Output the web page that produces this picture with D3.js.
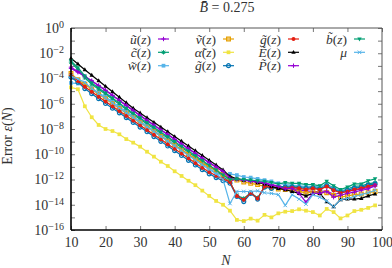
<!DOCTYPE html>
<html><head><meta charset="utf-8">
<script src="https://cdn.jsdelivr.net/npm/d3@7"></script>
<style>
body{margin:0;background:#fff}
svg{display:block}
svg text{font-family:"Liberation Serif","Times New Roman",serif !important;fill:#333}
</style>
</head><body>
<svg id="chart" width="392" height="268"></svg>
<script>
// N values (x axis)
const Nvals = [10,12,14,16,18,20,22,24,26,28,
  30,32,34,36,38,40,42,44,46,48,
  50,52,54,56,58,60,62,64,66,68,
  70,72,74,76,78,80,82,84,86,88,
  90,92,94,96,98];

// log10 of error
const uTilde = [-3.20,-3.50,-3.85,-4.20,-4.58,-4.95,-5.35,-5.75,-6.15,-6.55,
  -6.95,-7.33,-7.70,-8.08,-8.45,-8.83,-9.20,-9.58,-9.95,-10.32,
  -10.68,-11.02,-11.40,-12.15,-11.95,-12.05,-12.10,-12.15,-12.25,-12.40,
  -12.50,-12.60,-12.70,-12.85,-12.90,-12.95,-12.95,-12.90,-13.20,-13.05,
  -12.95,-12.85,-12.75,-12.65,-12.55];
const cTilde = [-2.70,-3.30,-3.95,-4.45,-4.85,-5.25,-5.65,-6.05,-6.45,-6.85,
  -7.22,-7.60,-7.97,-8.35,-8.72,-9.10,-9.47,-9.85,-10.22,-10.60,
  -10.97,-11.35,-11.75,-12.20,-13.25,-13.50,-13.05,-13.45,-12.60,-12.65,
  -12.60,-12.55,-12.50,-12.55,-12.60,-12.55,-12.65,-12.40,-12.65,-12.95,
  -12.75,-12.55,-12.50,-12.35,-12.25];
const wTilde = [-4.35,-4.40,-4.45,-4.75,-5.15,-5.45,-5.85,-6.25,-6.62,-7.00,
  -7.38,-7.75,-8.12,-8.50,-8.87,-9.25,-9.62,-10.00,-10.37,-10.75,
  -11.12,-11.48,-11.75,-11.55,-11.65,-11.80,-11.85,-11.95,-12.05,-12.15,
  -12.30,-12.40,-12.45,-12.50,-12.55,-12.60,-12.55,-12.45,-12.70,-12.90,
  -12.80,-12.65,-12.60,-12.50,-12.45];
const vTilde = [-3.60,-4.10,-4.45,-4.85,-5.25,-5.60,-6.00,-6.38,-6.75,-7.12,
  -7.50,-7.85,-8.22,-8.58,-8.95,-9.30,-9.65,-10.00,-10.35,-10.70,
  -11.00,-11.25,-11.60,-11.90,-12.05,-12.20,-12.30,-12.40,-12.55,-12.65,
  -12.75,-12.80,-12.85,-12.90,-13.10,-12.95,-13.05,-13.05,-13.25,-13.40,
  -13.30,-13.20,-13.15,-13.05,-12.95];
const alphaTilde = [-4.70,-4.85,-6.20,-7.07,-7.68,-8.00,-8.16,-8.42,-8.80,-9.08,
  -9.40,-9.80,-10.19,-10.59,-10.93,-11.35,-11.72,-12.10,-12.45,-12.88,
  -13.30,-13.70,-14.00,-14.47,-15.20,-15.29,-15.10,-15.26,-14.80,-15.00,
  -14.68,-14.55,-14.50,-14.36,-14.47,-14.58,-14.85,-14.33,-14.58,-15.08,
  -14.85,-14.50,-14.40,-14.25,-14.05];
const gTildeBlue = [-3.90,-4.30,-4.80,-5.20,-5.60,-5.98,-6.35,-6.72,-7.10,-7.48,
  -7.85,-8.22,-8.60,-8.98,-9.35,-9.72,-10.10,-10.48,-10.85,-11.22,
  -11.55,-11.85,-12.10,-12.30,-13.35,-13.75,-13.10,-13.55,-12.60,-12.70,
  -12.65,-12.60,-12.60,-12.65,-12.70,-12.65,-12.75,-12.50,-12.80,-13.00,
  -12.85,-12.70,-12.60,-12.45,-12.35];
const gTildeRed = [-3.70,-4.20,-4.65,-5.05,-5.45,-5.83,-6.20,-6.58,-6.95,-7.33,
  -7.70,-8.08,-8.45,-8.82,-9.20,-9.57,-9.95,-10.32,-10.70,-11.07,
  -11.40,-11.70,-11.95,-12.20,-13.30,-13.60,-13.05,-13.50,-12.55,-12.60,
  -12.65,-12.70,-12.65,-12.70,-12.80,-12.70,-12.80,-12.55,-12.85,-13.05,
  -12.95,-12.80,-12.70,-12.55,-12.45];
const ETilde = [-2.40,-2.85,-3.30,-3.74,-4.18,-4.62,-5.05,-5.48,-5.92,-6.35,
  -6.73,-7.10,-7.47,-7.85,-8.22,-8.60,-8.97,-9.35,-9.72,-10.10,
  -10.48,-10.85,-11.25,-11.75,-11.95,-12.05,-12.10,-12.25,-12.35,-12.55,
  -12.70,-12.80,-12.95,-13.10,-13.30,-13.10,-13.10,-13.75,-14.15,-13.60,
  -13.55,-13.55,-13.50,-13.30,-13.15];
const PTilde = [-3.10,-3.45,-3.82,-4.18,-4.55,-4.92,-5.32,-5.72,-6.12,-6.52,
  -6.92,-7.30,-7.68,-8.05,-8.42,-8.80,-9.17,-9.55,-9.92,-10.30,
  -10.65,-11.00,-11.35,-11.90,-12.00,-12.05,-12.15,-12.20,-12.30,-12.45,
  -12.55,-12.75,-12.70,-13.10,-13.80,-13.10,-13.10,-12.95,-13.40,-13.25,
  -13.10,-13.00,-12.85,-12.75,-12.45];
const bTilde = [-2.60,-3.15,-3.80,-4.35,-4.75,-5.15,-5.55,-5.95,-6.35,-6.75,
  -7.12,-7.50,-7.87,-8.25,-8.62,-9.00,-9.37,-9.75,-10.12,-10.50,
  -10.87,-11.25,-11.65,-12.00,-11.95,-12.00,-12.05,-12.10,-12.15,-12.25,
  -12.35,-12.25,-12.30,-12.30,-12.40,-12.40,-12.50,-12.15,-12.50,-12.80,
  -12.60,-12.35,-12.35,-12.10,-11.95];
const mu = [-3.80,-4.05,-4.30,-4.80,-5.20,-5.55,-5.95,-6.35,-6.72,-7.10,
  -7.48,-7.85,-8.22,-8.60,-8.97,-9.35,-9.72,-10.10,-10.47,-10.85,
  -11.20,-11.55,-12.00,-13.90,-12.95,-12.95,-12.95,-12.90,-13.05,-13.10,
  -13.20,-14.05,-13.20,-13.55,-13.95,-13.20,-13.40,-13.70,-14.15,-13.60,
  -13.50,-13.35,-13.20,-13.05,-12.85];

const xTicks = [10,20,30,40,50,60,70,80,90,100];
const yExponents = [0,-1,-2,-3,-4,-5,-6,-7,-8,-9,-10,-11,-12,-13,-14,-15,-16];
const titleText = "0.275";

const series = [
  {label:[["u\u0303",1],["(",0],["z",1],[")",0]], color:"#9400d3", marker:"plus", vals:uTilde},
  {label:[["c\u0303",1],["(",0],["z",1],[")",0]], color:"#009e73", marker:"star", vals:cTilde},
  {label:[["w\u0303",1],["(",0],["z",1],[")",0]], color:"#56b4e9", marker:"sqfill", vals:wTilde},
  {label:[["v\u0303",1],["(",0],["z",1],[")",0]], color:"#e69f00", marker:"sqopen", vals:vTilde},
  {label:[["\u03b1\u0303",1],["(",0],["z",1],[")",0]], color:"#f0e442", marker:"sqfill", vals:alphaTilde},
  {label:[["g\u0303",1],["(",0],["z",1],[")",0]], color:"#0072b2", marker:"circopen", vals:gTildeBlue},
  {label:[["g\u0303",1],["(",0],["z",1],[")",0]], color:"#e51e10", marker:"circfill", vals:gTildeRed},
  {label:[["E\u0303",1],["(",0],["z",1],[")",0]], color:"#000000", marker:"trifill", vals:ETilde},
  {label:[["P\u0303",1],["(",0],["z",1],[")",0]], color:"#9400d3", marker:"plus", vals:PTilde},
  {label:[["b\u0303",1],["(",0],["z",1],[")",0]], color:"#009e73", marker:"invtrifill", vals:bTilde},
  {label:[["\u03bc",1]], color:"#56b4e9", marker:"cross", vals:mu}
];

const FONT = "'Liberation Serif', 'Times New Roman', serif";
const svg = d3.select("#chart");
const L = 71, R = 382, T = 28, B = 230;
const x = d3.scaleLinear().domain([10,100]).range([L,R]);
const y = d3.scaleLog().domain([1e-16,1]).range([B,T]);

// axes
const yTickVals = yExponents.map(e => Math.pow(10,e));
const yl = svg.append("g").attr("transform",`translate(${L},0)`)
  .call(d3.axisLeft(y).tickValues(yTickVals).tickSize(-4).tickPadding(8).tickFormat(""));
const yr = svg.append("g").attr("transform",`translate(${R},0)`)
  .call(d3.axisRight(y).tickValues(yTickVals).tickSize(-4).tickFormat(""));
const xb = svg.append("g").attr("transform",`translate(0,${B})`)
  .call(d3.axisBottom(x).tickValues(xTicks).tickSize(-4).tickPadding(7).tickFormat(d3.format("d")));
const xt = svg.append("g").attr("transform",`translate(0,${T})`)
  .call(d3.axisTop(x).tickValues(xTicks).tickSize(-4).tickFormat(""));
[yl,yr,xb,xt].forEach(g => {
  g.attr("font-family", FONT).attr("font-size", 14);
  g.select(".domain").remove();
  g.selectAll(".tick line").attr("stroke","#777").attr("stroke-width",1);
});
xb.selectAll(".tick text").attr("fill","#333").style("font-family",FONT).style("font-size","14px");

// y labels with superscripts
yl.selectAll(".tick").each(function(d){
  const e = Math.round(Math.log10(d));
  if (e % 2 !== 0) return;
  const t = d3.select(this).append("text")
    .attr("x",-7).attr("dy","0.32em").attr("text-anchor","end")
    .attr("fill","#333").style("font-family",FONT).style("font-size","14px");
  t.append("tspan").text("10");
  t.append("tspan").attr("dy","-0.5em").style("font-size","10px").text(e===0?"0":"\u2212"+(-e));
});

// frame
svg.append("line").attr("x1",L).attr("x2",R).attr("y1",T).attr("y2",T).attr("stroke","#555").attr("stroke-width",1);
svg.append("line").attr("x1",R).attr("x2",R).attr("y1",T).attr("y2",B).attr("stroke","#555").attr("stroke-width",1);

// series
const line = d3.line().x(d=>x(d[0])).y(d=>y(d[1]));
function markerPath(type, s){
  switch(type){
    case "plus": return `M${-s},0H${s}M0,${-s}V${s}`;
    case "cross": return `M${-s*0.8},${-s*0.8}L${s*0.8},${s*0.8}M${-s*0.8},${s*0.8}L${s*0.8},${-s*0.8}`;
    case "star": return `M${-s},0H${s}M0,${-s}V${s}M${-s*0.75},${-s*0.75}L${s*0.75},${s*0.75}M${-s*0.75},${s*0.75}L${s*0.75},${-s*0.75}`;
    case "sqfill": case "sqopen": return `M${-s*0.85},${-s*0.85}H${s*0.85}V${s*0.85}H${-s*0.85}Z`;
    case "circfill": case "circopen": return `M${s*0.9},0A${s*0.9},${s*0.9} 0 1,1 ${-s*0.9},0A${s*0.9},${s*0.9} 0 1,1 ${s*0.9},0Z`;
    case "trifill": return `M0,${-s*1.1}L${s},${s*0.7}L${-s},${s*0.7}Z`;
    case "invtrifill": return `M0,${s*1.1}L${s},${-s*0.7}L${-s},${-s*0.7}Z`;
  }
}
function drawMarker(g, type, color, cx, cy){
  const s = 2.2;
  const p = g.append("path").attr("d", markerPath(type,s)).attr("transform",`translate(${cx},${cy})`);
  if (type==="plus"||type==="cross"||type==="star") p.attr("fill","none").attr("stroke",color).attr("stroke-width",1);
  else if (type==="sqopen"||type==="circopen") p.attr("fill","none").attr("stroke",color).attr("stroke-width",1.2);
  else p.attr("fill",color).attr("stroke","none");
}

const plotG = svg.append("g");
series.forEach(s => {
  const pts = Nvals.map((n,i) => [n, Math.pow(10, s.vals[i])]);
  const g = plotG.append("g");
  g.append("path").datum(pts).attr("d",line).attr("fill","none").attr("stroke",s.color).attr("stroke-width",1.2);
  pts.forEach(p => drawMarker(g, s.marker, s.color, x(p[0]), y(p[1])));
});

// left/bottom axis lines
svg.append("line").attr("x1",L).attr("x2",L).attr("y1",T).attr("y2",B).attr("stroke","#000").attr("stroke-width",1.6);
svg.append("line").attr("x1",L).attr("x2",R).attr("y1",B).attr("y2",B).attr("stroke","#000").attr("stroke-width",1.6);

// legend
const colX = [151, 216, 281, 347];
const rowY = [39, 52.3, 65.7];
series.forEach((s,i) => {
  const c = Math.floor(i/3), r = i%3;
  const tx = colX[c], ty = rowY[r];
  const t = svg.append("text").attr("x",tx).attr("y",ty+4.5).attr("text-anchor","end").style("font-size","13.5px");
  s.label.forEach(([str,it]) => t.append("tspan").attr("font-style", it?"italic":"normal").text(str));
  const g = svg.append("g");
  g.append("line").attr("x1",tx+7).attr("x2",tx+18).attr("y1",ty).attr("y2",ty).attr("stroke",s.color).attr("stroke-width",1.2);
  drawMarker(g, s.marker, s.color, tx+12.5, ty);
});

// title
const title = svg.append("text").attr("x",227).attr("y",12).attr("text-anchor","middle").style("font-size","14px");
title.append("tspan").attr("font-style","italic").text("B\u0304");
title.append("tspan").text(" = " + titleText);

// axis labels
svg.append("text").attr("x",226).attr("y",265).attr("text-anchor","middle").style("font-size","14px").attr("font-style","italic").text("N");
const yt = svg.append("text").attr("transform","translate(12,136) rotate(-90)").attr("text-anchor","middle").style("font-size","14px");
yt.append("tspan").text("Error ");
yt.append("tspan").attr("font-style","italic").text("\u03b5");
yt.append("tspan").text("(");
yt.append("tspan").attr("font-style","italic").text("N");
yt.append("tspan").text(")");
</script>
</body></html>
